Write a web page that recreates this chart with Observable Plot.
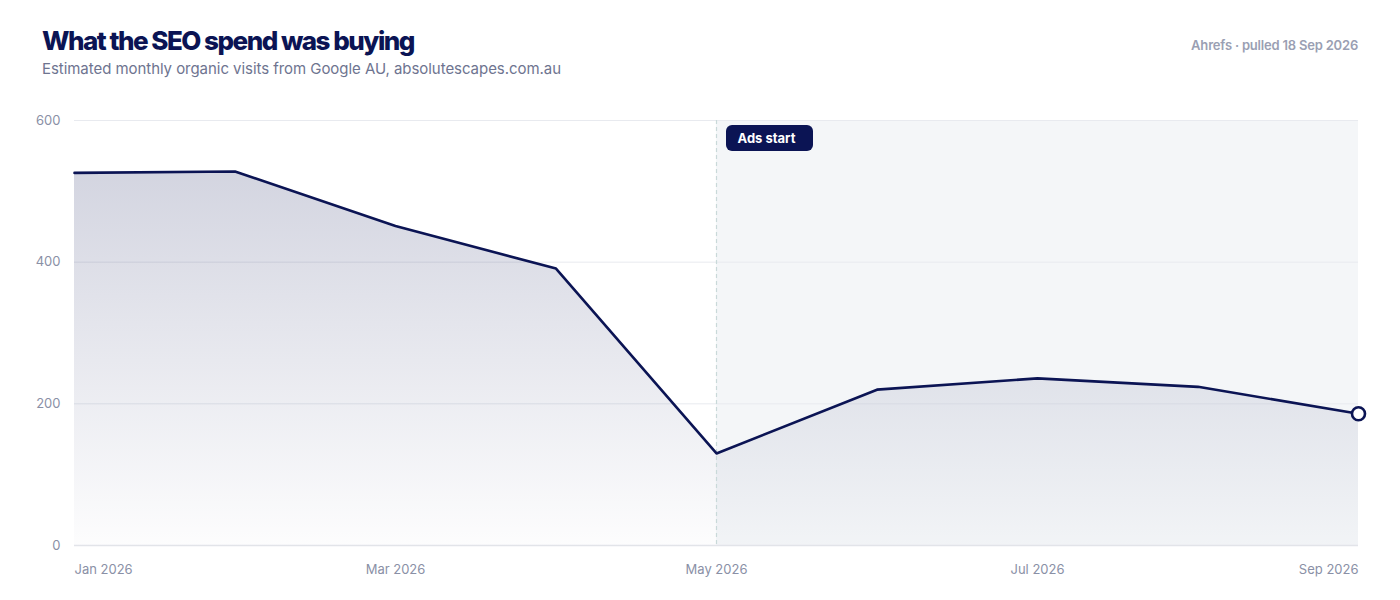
<!DOCTYPE html>
<html>
<head>
<meta charset="utf-8">
<script src="https://cdn.jsdelivr.net/npm/d3@7"></script>
<script src="https://cdn.jsdelivr.net/npm/@observablehq/plot@0.6"></script>
<style>
  html, body { margin: 0; padding: 0; background: #ffffff; }
  body { width: 1400px; height: 600px; position: relative; font-family: Inter, "Noto Sans", sans-serif; overflow: hidden; }
  #title { position: absolute; left: 42px; top: 24px; font-size: 26px; font-weight: 800; color: #0b1454; letter-spacing: -1.5px; line-height: 34px; margin: 0; }
  #subtitle { position: absolute; left: 42px; top: 59px; font-size: 15px; font-weight: 400; color: #6e7490; letter-spacing: -0.05px; line-height: 20px; }
  #source { position: absolute; right: 42px; top: 36px; font-size: 13px; font-weight: 600; color: #9a9fb3; letter-spacing: -0.2px; line-height: 18px; }
  #chart { position: absolute; left: 0; top: 90px; }
</style>
</head>
<body>
<div id="title">What the SEO spend was buying</div>
<div id="subtitle">Estimated monthly organic visits from Google AU, absolutescapes.com.au</div>
<div id="source">Ahrefs · pulled 18 Sep 2026</div>
<div id="chart"></div>
<script>
const months = ["2026-01", "2026-02", "2026-03", "2026-04", "2026-05", "2026-06", "2026-07", "2026-08", "2026-09"];
const visits = [526, 528, 451, 391, 130, 220, 236, 224, 186];
const yTicks = [0, 200, 400, 600];
const xTickMonths = ["2026-01", "2026-03", "2026-05", "2026-07", "2026-09"];
const adsStartMonth = "2026-05";
const adsLabel = "Ads start";

const parse = d3.utcParse("%Y-%m");
const fmtDate = d3.utcFormat("%b %Y");
const fmt = m => fmtDate(parse(m));
const data = months.map((m, i) => ({month: m, value: visits[i]}));
const lastMonth = months[months.length - 1];
const yMax = yTicks[yTicks.length - 1];

const navy = "#0b1454";

function gradientDefs() {
  const ns = "http://www.w3.org/2000/svg";
  const defs = document.createElementNS(ns, "defs");
  const grad = document.createElementNS(ns, "linearGradient");
  grad.setAttribute("id", "areaGrad");
  grad.setAttribute("x1", "0"); grad.setAttribute("y1", "0");
  grad.setAttribute("x2", "0"); grad.setAttribute("y2", "1");
  [[0, 0.18], [1, 0.01]].forEach(([o, a]) => {
    const s = document.createElementNS(ns, "stop");
    s.setAttribute("offset", o);
    s.setAttribute("stop-color", navy);
    s.setAttribute("stop-opacity", a);
    grad.appendChild(s);
  });
  defs.appendChild(grad);
  return defs;
}

const plot = Plot.plot({
  width: 1400,
  height: 510,
  marginTop: 30,
  marginBottom: 55,
  marginLeft: 74,
  marginRight: 42,
  style: {fontFamily: "Inter, 'Noto Sans', sans-serif", fontSize: "13px", color: "#8a90a6", background: "transparent"},
  x: {type: "point", domain: months, padding: 0, round: false, axis: null},
  y: {domain: [0, yMax], axis: null},
  marks: [
    gradientDefs,
    // post-ads shaded region
    Plot.rect([{x1: adsStartMonth, x2: lastMonth}], {x1: "x1", x2: "x2", y1: 0, y2: yMax, fill: "#f4f6f8"}),
    // grid
    Plot.ruleY(yTicks.filter(t => t > 0), {stroke: "#e8eaef", strokeWidth: 1}),
    Plot.ruleY([0], {stroke: "#e2e4e9", strokeWidth: 1.5}),
    // area + line
    Plot.areaY(data, {x: "month", y: "value", fill: "url(#areaGrad)"}),
    Plot.ruleX([adsStartMonth], {stroke: "#c9d9d9", strokeWidth: 1.2, strokeDasharray: "4,3"}),
    Plot.lineY(data, {x: "month", y: "value", stroke: navy, strokeWidth: 2.6, strokeLinejoin: "round"}),
    Plot.dot([data[data.length - 1]], {x: "month", y: "value", r: 6.5, fill: "white", stroke: navy, strokeWidth: 2.6}),
    // annotation
    Plot.rect([{x: adsStartMonth, y: yMax}], {x1: "x", x2: "x", y1: "y", y2: "y", insetLeft: 10, insetRight: -97, insetTop: 5, insetBottom: -31, rx: 6, fill: navy}),
    Plot.text([{x: adsStartMonth, y: yMax}], {x: "x", y: "y", text: () => adsLabel, dx: 21, dy: 18, textAnchor: "start", fill: "white", fontWeight: 700, fontSize: 13}),
    // axes
    Plot.text(yTicks, {x: () => months[0], y: d => d, text: d => String(d), dx: -14, textAnchor: "end", fill: "#8a90a6", fontSize: 13}),
    Plot.text(xTickMonths.slice(0, 1), {x: d => d, y: 0, text: fmt, dy: 24, textAnchor: "start", fill: "#8a90a6", fontSize: 13}),
    Plot.text(xTickMonths.slice(1, -1), {x: d => d, y: 0, text: fmt, dy: 24, textAnchor: "middle", fill: "#8a90a6", fontSize: 13}),
    Plot.text(xTickMonths.slice(-1), {x: d => d, y: 0, text: fmt, dy: 24, textAnchor: "end", fill: "#8a90a6", fontSize: 13})
  ]
});
document.getElementById("chart").appendChild(plot);
</script>
</body>
</html>
